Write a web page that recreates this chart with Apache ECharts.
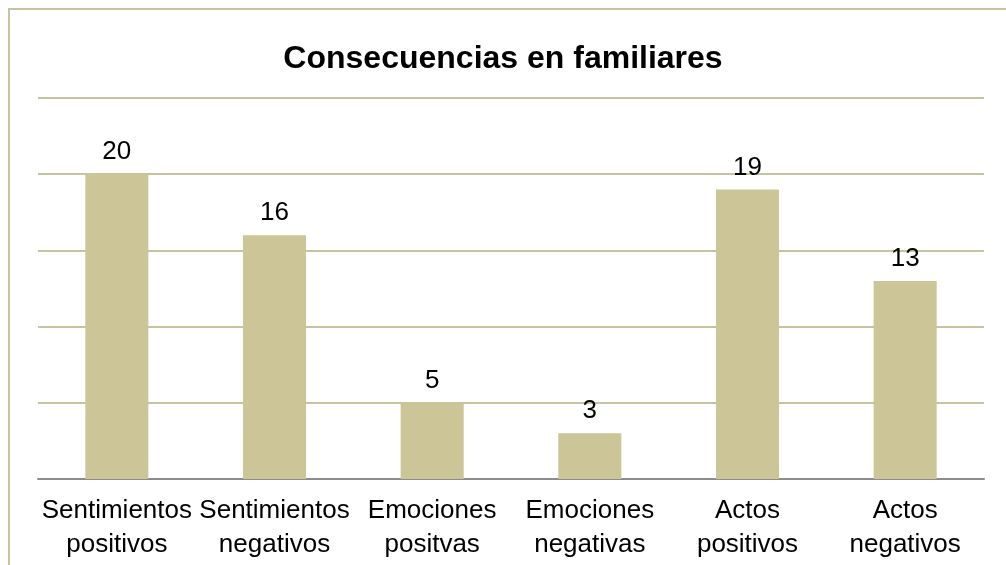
<!DOCTYPE html>
<html>
<head>
<meta charset="utf-8">
<script src="https://cdn.jsdelivr.net/npm/echarts@6/dist/echarts.min.js"></script>
<style>
  html, body { margin: 0; padding: 0; background: #fff; overflow: hidden; }
  .frame { position: absolute; left: 8px; top: 8px; width: 1100px; height: 700px;
           border-left: 2px solid #c6c3a0; border-top: 2px solid #c6c3a0; box-sizing: border-box; }
  #chart { position: absolute; left: 0; top: 0; width: 1006px; height: 565px; }
</style>
</head>
<body>
<div class="frame"></div>
<div id="chart"></div>
<script>
  // datos
  var categories = ['Sentimientos\npositivos', 'Sentimientos\nnegativos', 'Emociones\npositvas',
                    'Emociones\nnegativas', 'Actos\npositivos', 'Actos\nnegativos'];
  var values = [20, 16, 5, 3, 19, 13];

  var myChart = echarts.init(document.getElementById('chart'));
  var option = {
    animation: false,
    title: {
      text: 'Consecuencias en familiares',
      left: 'center',
      top: 38,
      textStyle: {
        fontFamily: 'Liberation Sans',
        fontSize: 32,
        fontWeight: 'bold',
        color: '#000'
      }
    },
    grid: {
      left: 38,
      right: 22,
      top: 98,
      bottom: 86
    },
    xAxis: {
      type: 'category',
      data: categories,
      axisTick: { show: false },
      axisLine: { lineStyle: { color: '#8c8c8c', width: 2 } },
      axisLabel: {
        color: '#000',
        fontFamily: 'Liberation Sans',
        fontSize: 26,
        lineHeight: 34,
        margin: 15,
        interval: 0
      }
    },
    yAxis: {
      type: 'value',
      min: 0,
      max: 25,
      interval: 5,
      axisLabel: { show: false },
      axisLine: { show: false },
      axisTick: { show: false },
      splitLine: { lineStyle: { color: '#c6c3a0', width: 2 } }
    },
    series: [{
      type: 'bar',
      data: values,
      barWidth: '40%',
      itemStyle: { color: '#ccc597' },
      label: {
        show: true,
        position: 'top',
        distance: 9,
        color: '#000',
        fontFamily: 'Liberation Sans',
        fontSize: 26
      }
    }]
  };
  myChart.setOption(option);
</script>
</body>
</html>
